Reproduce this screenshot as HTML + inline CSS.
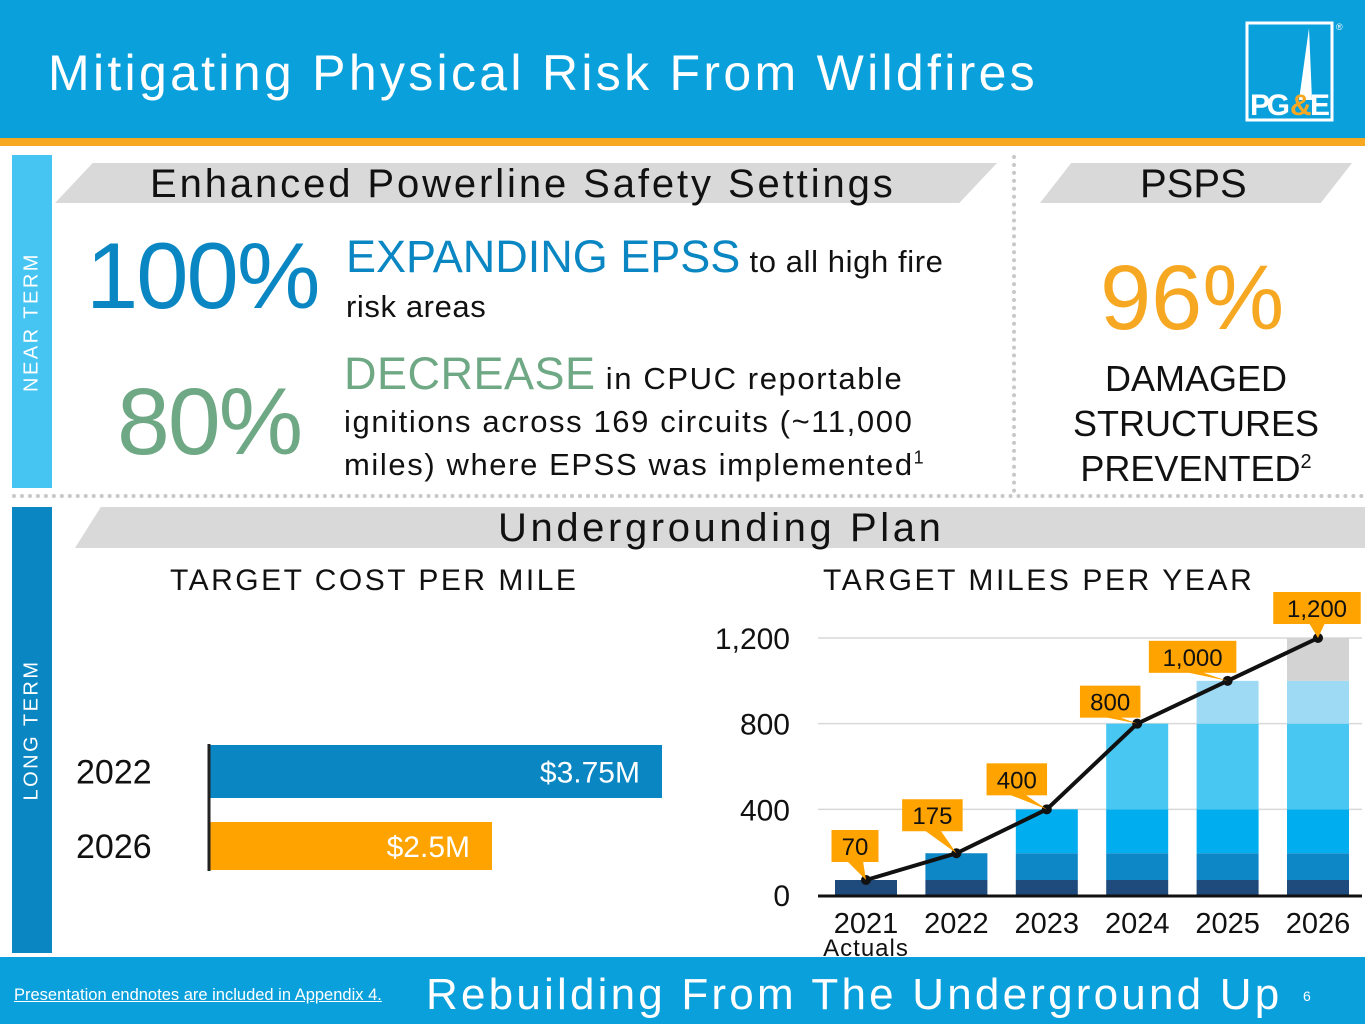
<!DOCTYPE html>
<html><head><meta charset="utf-8"><style>
*{margin:0;padding:0;box-sizing:border-box}
body{width:1365px;height:1024px;position:relative;background:#fff;font-family:"Liberation Sans",sans-serif;overflow:hidden}
.a{position:absolute;white-space:nowrap}
.hdr{position:absolute;background:#d9d9d9;clip-path:polygon(4% 0,100% 0,96% 100%,0 100%)}
sup{line-height:0}
</style></head><body>
<div class="a" style="left:0;top:0;width:1365px;height:138px;background:#0aa0dc"></div>
<div class="a" style="left:0;top:138px;width:1365px;height:8px;background:#f7a823"></div>
<div class="a" style="left:48px;top:44px;font-size:50px;color:#fff;letter-spacing:3.3px">Mitigating Physical Risk From Wildfires</div>
<svg class="a" style="left:1244px;top:20px" width="110" height="105" viewBox="0 0 110 105">
<rect x="3" y="3" width="85" height="97" fill="none" stroke="#fff" stroke-width="3"/>
<polygon points="65,8 55,80 68,80" fill="#fff"/>
<text x="6" y="95" font-size="30" font-weight="bold" fill="#fff" font-family="Liberation Sans Narrow,Liberation Sans" textLength="40">PG</text>
<text x="46" y="95" font-size="30" font-weight="bold" fill="#f7a823" font-family="Liberation Sans">&amp;</text>
<text x="66" y="95" font-size="30" font-weight="bold" fill="#fff" font-family="Liberation Sans">E</text>
<text x="92" y="10" font-size="9" fill="#fff">®</text>
</svg>

<div class="a" style="left:12px;top:155px;width:40px;height:333px;background:#47c5f2"></div>
<div class="a" style="left:32px;top:322px;color:#fff;font-size:20px;letter-spacing:2.5px;transform:translate(-50%,-50%) rotate(-90deg)">NEAR TERM</div>
<div class="a" style="left:12px;top:507px;width:40px;height:446px;background:#0a87c2"></div>
<div class="a" style="left:32px;top:730px;color:#fff;font-size:20px;letter-spacing:2.5px;transform:translate(-50%,-50%) rotate(-90deg)">LONG TERM</div>
<div class="a" style="left:12px;top:494px;width:1353px;border-top:4px dotted #c8c8c8"></div>
<div class="a" style="left:1012px;top:155px;height:338px;border-left:4px dotted #c8c8c8"></div>

<div class="hdr" style="left:55px;top:163px;width:942px;height:40px"></div>
<div class="a" style="left:150px;top:162px;font-size:40px;color:#111;letter-spacing:2.9px">Enhanced Powerline Safety Settings</div>
<div class="hdr" style="left:1040px;top:163px;width:312px;height:40px;clip-path:polygon(10% 0,100% 0,90% 100%,0 100%)"></div>
<div class="a" style="left:1140px;top:162px;font-size:40px;color:#111">PSPS</div>

<div class="a" style="left:86px;top:222px;font-size:94px;color:#0a87c2;letter-spacing:-2px">100%</div>
<div class="a" style="left:346px;top:234px;font-size:31px;color:#111;line-height:45px;letter-spacing:0.6px"><span style="color:#0a87c2;font-size:45px;letter-spacing:0">EXPANDING EPSS</span> to all high fire<br>risk areas</div>
<div class="a" style="left:117px;top:368px;font-size:95px;color:#6fa884;letter-spacing:-2px">80%</div>
<div class="a" style="left:344px;top:352px;font-size:31px;color:#111;line-height:43px;letter-spacing:1.6px"><span style="color:#6fa884;font-size:45px;letter-spacing:0.5px">DECREASE</span> in CPUC reportable<br>ignitions across 169 circuits (~11,000<br>miles) where EPSS was implemented<sup style="font-size:18px">1</sup></div>

<div class="a" style="left:1100px;top:246px;font-size:92px;color:#f7a823">96%</div>
<div class="a" style="left:1060px;top:356px;width:272px;text-align:center;font-size:36px;line-height:45px;color:#111;white-space:normal">DAMAGED STRUCTURES PREVENTED<sup style="font-size:20px">2</sup></div>

<div class="hdr" style="left:75px;top:507px;width:1290px;height:41px;clip-path:polygon(2% 0,100% 0,100% 100%,0 100%)"></div>
<div class="a" style="left:498px;top:506px;font-size:40px;color:#111;letter-spacing:3.6px">Undergrounding Plan</div>
<div class="a" style="left:170px;top:564px;font-size:30px;color:#111;letter-spacing:2.5px">TARGET COST PER MILE</div>
<div class="a" style="left:823px;top:564px;font-size:30px;color:#111;letter-spacing:2.6px">TARGET MILES PER YEAR</div>

<svg class="a" id="cost" style="left:0;top:700px" width="700" height="200"></svg>
<svg class="a" id="miles" style="left:690px;top:580px" width="675" height="380"></svg>

<div class="a" style="left:0;top:957px;width:1365px;height:67px;background:#0aa0dc"></div>
<div class="a" style="left:14px;top:986px;font-size:16.5px;color:#fff;text-decoration:underline">Presentation endnotes are included in Appendix 4.</div>
<div class="a" style="left:426px;top:970px;font-size:44px;color:#fff;letter-spacing:3.2px">Rebuilding From The Underground Up</div>
<div class="a" style="left:1303px;top:988px;font-size:14px;color:#fff">6</div>

<script>
const costYears=["2022","2026"];
const costValues=[3.75,2.5];
const costLabels=["$3.75M","$2.5M"];
const years=["2021","2022","2023","2024","2025","2026"];
const totals=[70,195,400,800,1000,1200];
const pointLabels=["70","175","400","800","1,000","1,200"];
const tierBreaks=[0,70,195,400,800,1000,1200];
const yTicks=[0,400,800,1200];
const yTickLabels=["0","400","800","1,200"];
const NS="http://www.w3.org/2000/svg";
function mk(p,t,a){const e=document.createElementNS(NS,t);for(const k in a)e.setAttribute(k,a[k]);p.appendChild(e);return e;}

// cost chart
const cs=document.getElementById('cost');
const cx=v=>152+v*136;
const cColors=["#0a87c2","#ffa300"];
const cTops=[45,122],cH=[53,48];
costValues.forEach((v,i)=>{
  const r=mk(cs,'rect',{x:210,y:cTops[i],width:cx(v)-210,height:cH[i],fill:cColors[i]});
  
  
  const t=mk(cs,'text',{x:cx(v)-22,y:cTops[i]+cH[i]/2+11,'text-anchor':'end','font-size':30,fill:'#fff'});t.textContent=costLabels[i];
  
  
  const y=mk(cs,'text',{x:76,y:cTops[i]+cH[i]/2+12,'font-size':34,fill:'#111'});y.textContent=costYears[i];
  
  
});
mk(cs,'line',{x1:209,y1:44,x2:209,y2:171,stroke:'#222','stroke-width':3});

// miles chart (offset 690,580)
const ms=document.getElementById('miles');
const Y=v=>315-v*(257/1200);
const X=i=>176+i*90.4;
const bw=62;
const tierColors=["#1e4a7c","#0d87c6","#00aeef","#48c7f2","#9fdaf5","#d3d3d3"];
const calloutDx=[-11,-24,-30,-27,-35,-1];
const calloutDy=[18,22,14,6,8,14];
yTicks.forEach((t,i)=>{
  if(t>0) mk(ms,'line',{x1:128,x2:672,y1:Y(t),y2:Y(t),stroke:'#d9d9d9','stroke-width':1.5});
  const tx=mk(ms,'text',{x:100,y:Y(t)+11,'text-anchor':'end','font-size':30,fill:'#111'});tx.textContent=yTickLabels[i];
  
  
});
years.forEach((yr,i)=>{
  for(let k=0;k<tierBreaks.length-1;k++){
    const lo=tierBreaks[k],hi=Math.min(tierBreaks[k+1],totals[i]);
    if(hi<=lo) continue;
    const r=mk(ms,'rect',{x:X(i)-bw/2,y:Y(hi),width:bw,height:Y(lo)-Y(hi),fill:tierColors[k]});
    
    
  }
  const t=mk(ms,'text',{x:X(i),y:353,'text-anchor':'middle','font-size':29,fill:'#111'});t.textContent=yr;
  
  
});
const act=mk(ms,'text',{x:X(0),y:376,'text-anchor':'middle','font-size':24,fill:'#111','letter-spacing':1});act.textContent='Actuals';


mk(ms,'line',{x1:128,x2:672,y1:316,y2:316,stroke:'#111','stroke-width':3});
const pts=totals.map((v,i)=>X(i)+','+Y(v)).join(' ');
const pl=mk(ms,'polyline',{points:pts,fill:'none',stroke:'#111','stroke-width':4});


totals.forEach((v,i)=>{
  const c=mk(ms,'circle',{cx:X(i),cy:Y(v),r:5,fill:'#111'});
  
  
  const w=pointLabels[i].length*13.5+20,h=32;
  const lx=X(i)+calloutDx[i], ly=Y(v)-calloutDy[i]-h;
  mk(ms,'polygon',{points:`${lx-8},${ly+h-1} ${X(i)},${Y(v)} ${lx+8},${ly+h-1}`,fill:'#ffa300'});
  const b=mk(ms,'rect',{x:lx-w/2,y:ly,width:w,height:h,fill:'#ffa300'});
  
  
  const t=mk(ms,'text',{x:lx,y:ly+25,'text-anchor':'middle','font-size':24,fill:'#111'});t.textContent=pointLabels[i];
  
  
});
</script>
</body></html>
